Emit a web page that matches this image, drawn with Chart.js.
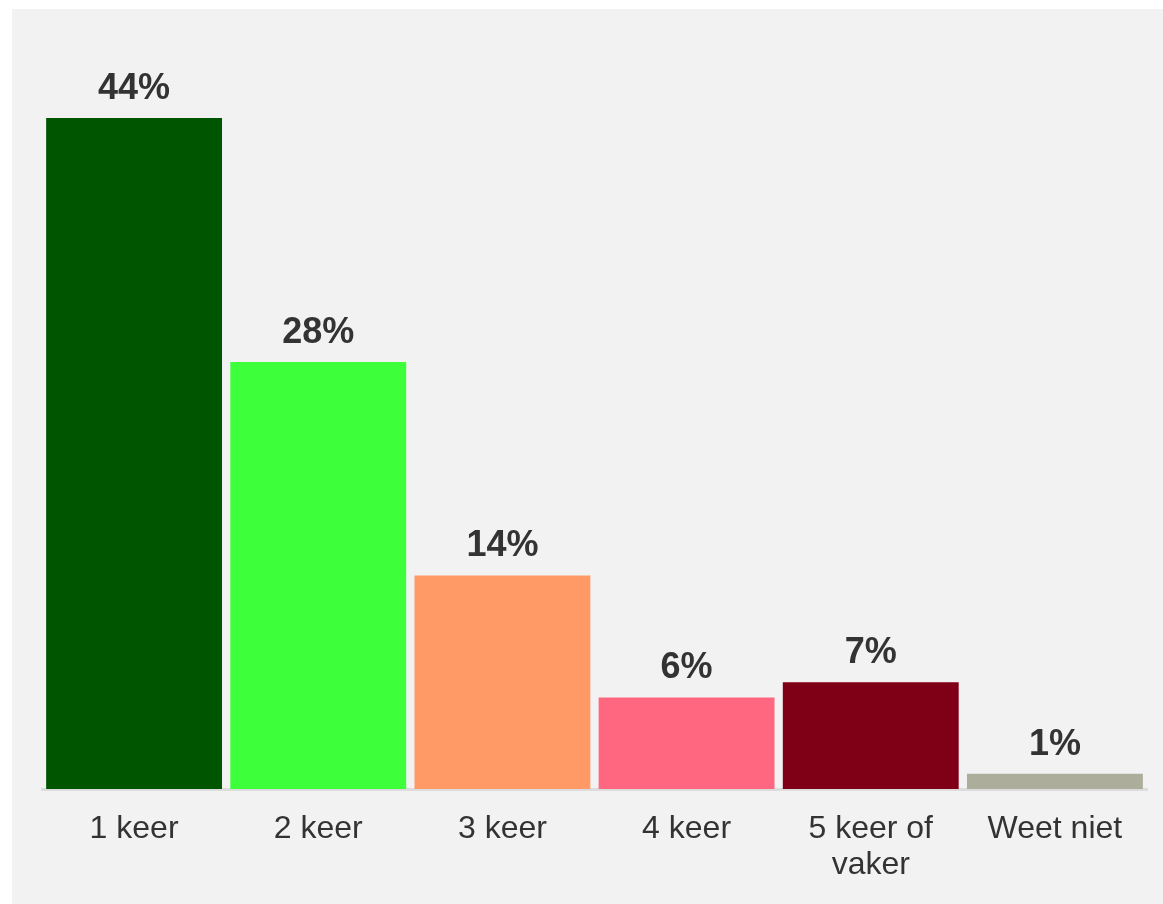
<!DOCTYPE html>
<html>
<head>
<meta charset="utf-8">
<script src="https://cdn.jsdelivr.net/npm/chart.js@4"></script>
<style>
  html, body { margin: 0; padding: 0; background: #ffffff; }
  #panel { position: absolute; left: 12px; top: 9px; width: 1151px; height: 895px; background: #f2f2f2; }
  canvas { display: block; }
</style>
</head>
<body>
<div id="panel"><canvas id="chart" width="1151" height="895"></canvas></div>
<script>
// data
const categories = ['1 keer', '2 keer', '3 keer', '4 keer', ['5 keer of', 'vaker'], 'Weet niet'];
const percentages = [44, 28, 14, 6, 7, 1];
const barColors = ['#005500', '#3dff3a', '#ff9966', '#ff6680', '#7f0016', '#adad9b'];

// draws the "44%" style labels above each bar
const valueLabels = {
    id: 'valueLabels',
    afterDatasetsDraw(chart) {
        const ctx = chart.ctx;
        const meta = chart.getDatasetMeta(0);
        ctx.save();
        ctx.font = 'bold 36px "Liberation Sans", Arial, sans-serif';
        ctx.fillStyle = '#333333';
        ctx.textAlign = 'center';
        ctx.textBaseline = 'middle';
        meta.data.forEach(function (bar, i) {
            ctx.fillText(percentages[i] + '%', bar.x, bar.y - 29);
        });
        ctx.restore();
    }
};

new Chart(document.getElementById('chart'), {
    type: 'bar',
    data: {
        labels: categories,
        datasets: [{
            data: percentages,
            backgroundColor: barColors,
            barPercentage: 0.955,
            categoryPercentage: 1
        }]
    },
    options: {
        responsive: false,
        animation: false,
        layout: { padding: { left: 30, right: 16, top: 17.5, bottom: 0 } },
        plugins: {
            legend: { display: false },
            tooltip: { enabled: false }
        },
        scales: {
            x: {
                grid: { display: true, color: 'rgba(0,0,0,0)', drawTicks: false },
                border: { display: true, color: '#dcdcdc', width: 3 },
                ticks: {
                    color: '#333333',
                    padding: 22,
                    font: { family: '"Liberation Sans", Arial, sans-serif', size: 32, lineHeight: 1.12 }
                },
                afterFit: function (scale) { scale.height = 115; }
            },
            y: {
                display: false,
                min: 0,
                max: 50
            }
        }
    },
    plugins: [valueLabels]
});
</script>
</body>
</html>
